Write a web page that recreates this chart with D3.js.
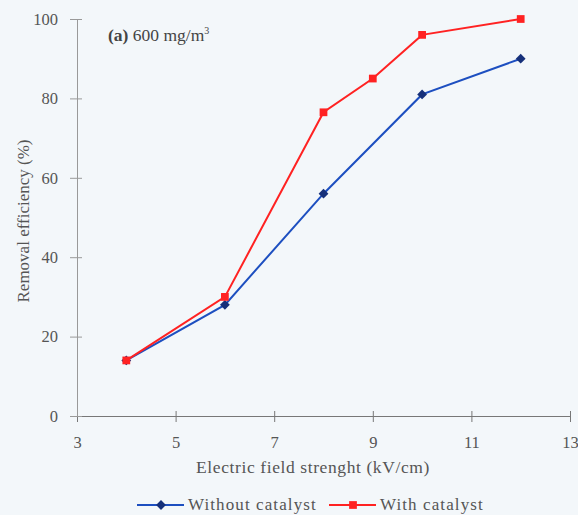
<!DOCTYPE html>
<html>
<head>
<meta charset="utf-8">
<script src="https://cdn.jsdelivr.net/npm/d3@7"></script>
<style>
  body { margin: 0; background: #f3f7fa; }
</style>
</head>
<body>
<div id="chart"></div>
<script>
(function () {

  // data
  const xWithout = [4, 6, 8, 10, 12];
  const yWithout = [14, 28, 56, 81, 90];
  const xWith = [4, 6, 8, 9, 10, 12];
  const yWith = [14, 30, 76.5, 85, 96, 100];
  const xTicks = [3, 5, 7, 9, 11, 13];
  const yTicks = [0, 20, 40, 60, 80, 100];

  const blue = "#1d4fc0", blueMark = "#16307a", red = "#ff2222";
  const serif = "Liberation Serif";

  const margin = { top: 19, right: 8, bottom: 99, left: 77 },
    width = 578 - margin.left - margin.right,
    height = 515 - margin.top - margin.bottom;

  const root = d3.select("#chart")
    .append("svg")
    .attr("width", 578)
    .attr("height", 515);

  const svg = root.append("g")
    .attr("transform", `translate(${margin.left},${margin.top})`);

  const x = d3.scaleLinear().domain([3, 13]).range([0, 493]);
  const y = d3.scaleLinear().domain([0, 100]).range([height, 0]);

  // X axis
  const gx = svg.append("g")
    .attr("transform", `translate(0, ${height})`)
    .call(d3.axisBottom(x).tickValues(xTicks).tickSize(6).tickPadding(14));
  gx.select(".domain").attr("stroke", "#777");
  gx.selectAll(".tick line").attr("stroke", "#777").attr("y1", -5);
  gx.selectAll("text").attr("fill", "#555")
    .attr("font-family", serif).attr("font-size", 16.5);

  // Y axis
  const gy = svg.append("g")
    .call(d3.axisLeft(y).tickValues(yTicks).tickSize(7).tickPadding(12));
  gy.select(".domain").attr("stroke", "#999");
  gy.selectAll(".tick line").attr("stroke", "#999").attr("x1", 5);
  gy.selectAll("text").attr("fill", "#555")
    .attr("font-family", serif).attr("font-size", 16.5);

  // axis labels
  root.append("text")
    .attr("x", 313).attr("y", 473)
    .attr("text-anchor", "middle")
    .attr("font-family", serif).attr("font-size", 17.5).attr("fill", "#555")
    .attr("letter-spacing", 0.6)
    .text("Electric field strenght (kV/cm)");

  root.append("text")
    .attr("transform", "translate(29,221) rotate(-90)")
    .attr("text-anchor", "middle")
    .attr("font-family", serif).attr("font-size", 17).attr("fill", "#555")
    .text("Removal efficiency (%)");

  // panel title
  const title = root.append("text")
    .attr("x", 108).attr("y", 41)
    .attr("font-family", serif).attr("font-size", 17.5).attr("fill", "#444");
  title.append("tspan").attr("font-weight", "bold").text("(a)");
  title.append("tspan").text(" 600 mg/m");
  title.append("tspan").attr("dy", -7).attr("font-size", 10).text("3");

  const line = d3.line().x(d => x(d[0])).y(d => y(d[1]));
  const withoutPts = xWithout.map((v, i) => [v, yWithout[i]]);
  const withPts = xWith.map((v, i) => [v, yWith[i]]);

  svg.append("path").datum(withoutPts)
    .attr("fill", "none").attr("stroke", blue).attr("stroke-width", 2)
    .attr("d", line);
  svg.append("path").datum(withPts)
    .attr("fill", "none").attr("stroke", red).attr("stroke-width", 2)
    .attr("d", line);

  // diamond = square turned 45 degrees
  const diamond = d3.symbol().type(d3.symbolSquare).size(48)();
  const square = d3.symbol().type(d3.symbolSquare).size(60)();

  svg.selectAll(".mw").data(withoutPts).join("path")
    .attr("transform", d => `translate(${x(d[0])},${y(d[1])}) rotate(45)`)
    .attr("d", diamond).attr("fill", blueMark);
  svg.selectAll(".mr").data(withPts).join("path")
    .attr("transform", d => `translate(${x(d[0])},${y(d[1])})`)
    .attr("d", square).attr("fill", red);

  // legend
  const legend = [
    { label: "Without catalyst", color: blue, mark: blueMark, sym: diamond, rot: 45, x0: 137 },
    { label: "With catalyst", color: red, mark: red, sym: square, rot: 0, x0: 329 }
  ];
  const lg = root.selectAll(".lg").data(legend).join("g")
    .attr("transform", d => `translate(${d.x0},505)`);
  lg.append("line").attr("x1", 0).attr("x2", 47)
    .attr("stroke", d => d.color).attr("stroke-width", 2);
  lg.append("path").attr("transform", d => `translate(24,0) rotate(${d.rot})`)
    .attr("d", d => d.sym).attr("fill", d => d.mark);
  lg.append("text").attr("x", 51).attr("y", 5)
    .attr("font-family", serif).attr("font-size", 17).attr("fill", "#555")
    .attr("letter-spacing", 1.1)
    .text(d => d.label);

})();
</script>
</body>
</html>
